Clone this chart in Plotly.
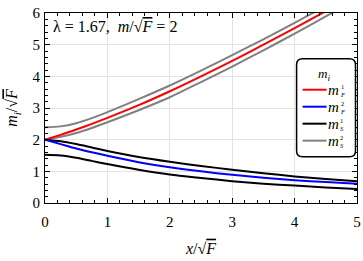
import plotly.graph_objects as go

# x / sqrt(F)
x_vals = [0.0, 0.25, 0.5, 0.75, 1.0, 1.5, 2.0, 2.5, 3.0, 3.5, 4.0, 4.5, 5.0]

# fermion masses
mF1 = [2.00, 2.15, 2.32, 2.50, 2.69, 3.09, 3.53, 4.00, 4.49, 5.00, 5.52, 6.06, 6.61]
mF2 = [2.00, 1.86, 1.72, 1.60, 1.49, 1.29, 1.13, 1.00, 0.89, 0.80, 0.72, 0.66, 0.61]

# scalar masses (two branches each)
mS1_a = [2.00, 1.95, 1.86, 1.75, 1.64, 1.45, 1.30, 1.17, 1.05, 0.94, 0.84, 0.76, 0.69]
mS1_b = [1.52, 1.50, 1.43, 1.33, 1.23, 1.05, 0.90, 0.79, 0.69, 0.61, 0.55, 0.49, 0.44]
mS2_a = [2.39, 2.42, 2.52, 2.68, 2.87, 3.28, 3.71, 4.18, 4.67, 5.17, 5.69, 6.22, 6.77]
mS2_b = [2.00, 2.09, 2.21, 2.37, 2.55, 2.93, 3.34, 3.82, 4.31, 4.82, 5.35, 5.89, 6.44]

x_ticks = [0, 1, 2, 3, 4, 5]
y_ticks = [0, 1, 2, 3, 4, 5, 6]

legend_colors = ["#ff0000", "#0000ff", "#000000", "#808080"]
legend_sup = ["1", "2", "1", "2"]
legend_sub = ["F", "F", "S", "S"]

SERIF = "Liberation Serif, Times New Roman, serif"
LW = 2
SQRT_F = "√<span style=\"text-decoration:overline\"><i>F</i></span>"

fig = go.Figure()

def add(y, color):
    fig.add_trace(go.Scatter(
        x=x_vals, y=y, mode="lines", showlegend=False,
        line=dict(color=color, width=LW, shape="spline", smoothing=0.8),
        hoverinfo="skip"))

add(mS2_a, "#808080")
add(mS2_b, "#808080")
add(mS1_a, "#000000")
add(mS1_b, "#000000")
add(mF1, "#ff0000")
add(mF2, "#0000ff")

axis_common = dict(
    showline=True, linecolor="black", linewidth=1, mirror="allticks",
    ticks="inside", ticklen=5, tickcolor="black", tickwidth=1,
    showgrid=True, gridcolor="#e3e3e3", gridwidth=1, zeroline=False,
    tickfont=dict(family=SERIF, size=15, color="black"),
    minor=dict(ticks="inside", ticklen=3, tickcolor="black", showgrid=False),
    automargin=False,
)

fig.update_xaxes(range=[0, 5], tickvals=x_ticks, minor_dtick=0.2, **axis_common,
                 ticklabelstandoff=5,
                 title=dict(text="<i>x</i>/" + SQRT_F,
                            font=dict(family=SERIF, size=16, color="black"), standoff=13))
fig.update_yaxes(range=[0, 6], tickvals=y_ticks, minor_dtick=0.2, **axis_common,
                 ticklabelstandoff=1,
                 title=dict(text="<i>m<sub>i</sub></i>/" + SQRT_F,
                            font=dict(family=SERIF, size=16, color="black"), standoff=10))

# ---- legend drawn manually (paper coords) ----
W, H = 312.5, 190.2
def px(xp):
    return (xp - 45) / W
def py(yp):
    return (203.4 - yp) / H

x0, x1, y0, y1 = px(297), px(356), py(157), py(59)
rx, ry = 6 / W, 6 / H
path = (f"M {x0+rx},{y0} L {x1-rx},{y0} Q {x1},{y0} {x1},{y0+ry} "
        f"L {x1},{y1-ry} Q {x1},{y1} {x1-rx},{y1} L {x0+rx},{y1} "
        f"Q {x0},{y1} {x0},{y1-ry} L {x0},{y0+ry} Q {x0},{y0} {x0+rx},{y0} Z")
fig.add_shape(type="path", path=path, xref="paper", yref="paper",
              line=dict(color="black", width=1.5), fillcolor="white", layer="above")

fig.add_annotation(text="<i>m<sub>i</sub></i>", xref="paper", yref="paper",
                   x=px(324), y=py(75), xanchor="center", yanchor="middle",
                   showarrow=False, font=dict(family=SERIF, size=13, color="black"))

row_y = [90, 107, 124, 141]
for c, sp, sb, ry_px in zip(legend_colors, legend_sup, legend_sub, row_y):
    fig.add_shape(type="line", xref="paper", yref="paper",
                  x0=px(303), x1=px(327), y0=py(ry_px), y1=py(ry_px),
                  line=dict(color=c, width=LW), layer="above")
    fig.add_annotation(text="<i>m</i>", xref="paper", yref="paper",
                       x=px(327), y=py(ry_px), xanchor="left", yanchor="middle",
                       showarrow=False, borderpad=0,
                       font=dict(family=SERIF, size=15, color="black"))
    fig.add_annotation(text=sp + "<br><i>" + sb + "</i>", xref="paper", yref="paper",
                       x=px(339), y=py(ry_px + 0.5), xanchor="left", yanchor="middle",
                       align="left", showarrow=False, borderpad=0,
                       font=dict(family=SERIF, size=6.5, color="black"))

fig.add_annotation(
    text="λ = 1.67,  <i>m</i>/" + SQRT_F + " = 2",
    xref="paper", yref="paper", x=px(51), y=py(27), xanchor="left", yanchor="middle",
    showarrow=False, font=dict(family=SERIF, size=16, color="black"))

fig.update_layout(
    width=363, height=261,
    margin=dict(l=45, r=5.5, t=13.2, b=57.6),
    paper_bgcolor="white", plot_bgcolor="white",
    showlegend=False,
)

fig.write_html("out.html", config={"displayModeBar": False},
               post_script="document.body.style.margin='0';document.body.style.padding='0';")
